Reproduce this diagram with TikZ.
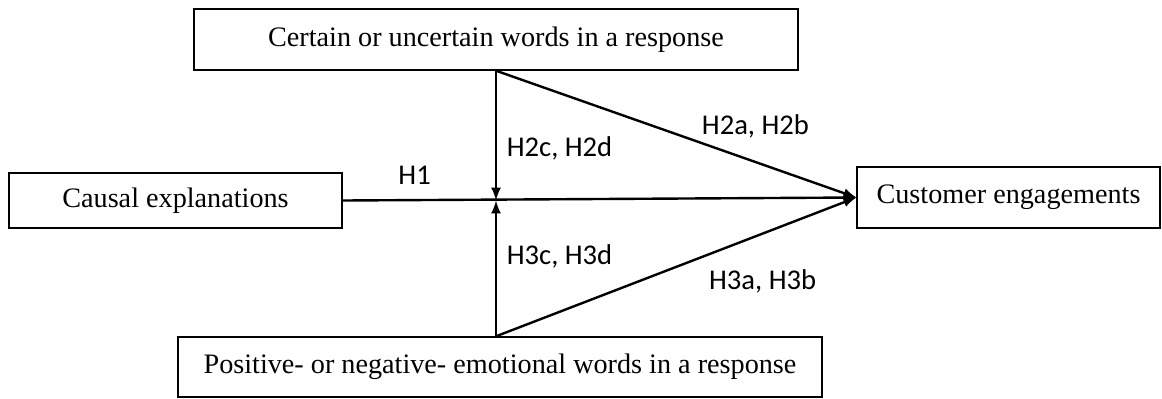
\documentclass[tikz,border=0pt]{standalone}
\usepackage{fontspec}
\setmainfont{Liberation Serif}
\newfontfamily\hypfont{Carlito}
\usepackage{tikz}
\usetikzlibrary{arrows, positioning}
\tikzstyle{factor} = [rectangle, draw=black, line width=0.7pt, inner sep=0pt, text centered, font=\fontsize{14.1}{17}\selectfont]
\tikzstyle{arrow} = [line width=1.2pt,->,>=latex]
\tikzstyle{hyp} = [font=\hypfont\fontsize{14.3}{16}\selectfont]

\begin{document}
\begin{tikzpicture}[x=0.5pt, y=-0.5pt]
        \useasboundingbox (0,0) rectangle (1162,398);
        \node [factor, minimum width=302pt, minimum height=30.5pt] (cert) at (496,39.5) {Certain or uncertain words in a response};
        \node [factor, minimum width=166.5pt, minimum height=27.5pt] (causal) at (175.5,200.5) {Causal explanations};
        \node [factor, minimum width=151.5pt, minimum height=30.5pt] (cust) at (1008.5,197.5) {Customer engagements};
        \node [factor, minimum width=322pt, minimum height=30pt] (emot) at (500,367) {Positive- or negative- emotional words in a response};

        \coordinate (mid) at (cert.south |- causal.east);
        \coordinate (emtop) at (mid |- emot.north);

        \draw [arrow] (causal.east) -- node[hyp, pos=0.14, above=4pt] {H1} (cust.west);
        \draw [arrow] (cert.south) -- node[hyp, pos=0.6, right=1.5pt] {H2c, H2d} (mid);
        \draw [arrow] (emtop) -- node[hyp, pos=0.59, right=1.5pt] {H3c, H3d} (mid);
        \draw [arrow] (cert.south) -- node[hyp, pos=0.72, above=8pt] {H2a, H2b} (cust.west);
        \draw [arrow] (emtop) -- node[hyp, pos=0.74, below=14pt] {H3a, H3b} (cust.west);
    \end{tikzpicture}
\end{document}
